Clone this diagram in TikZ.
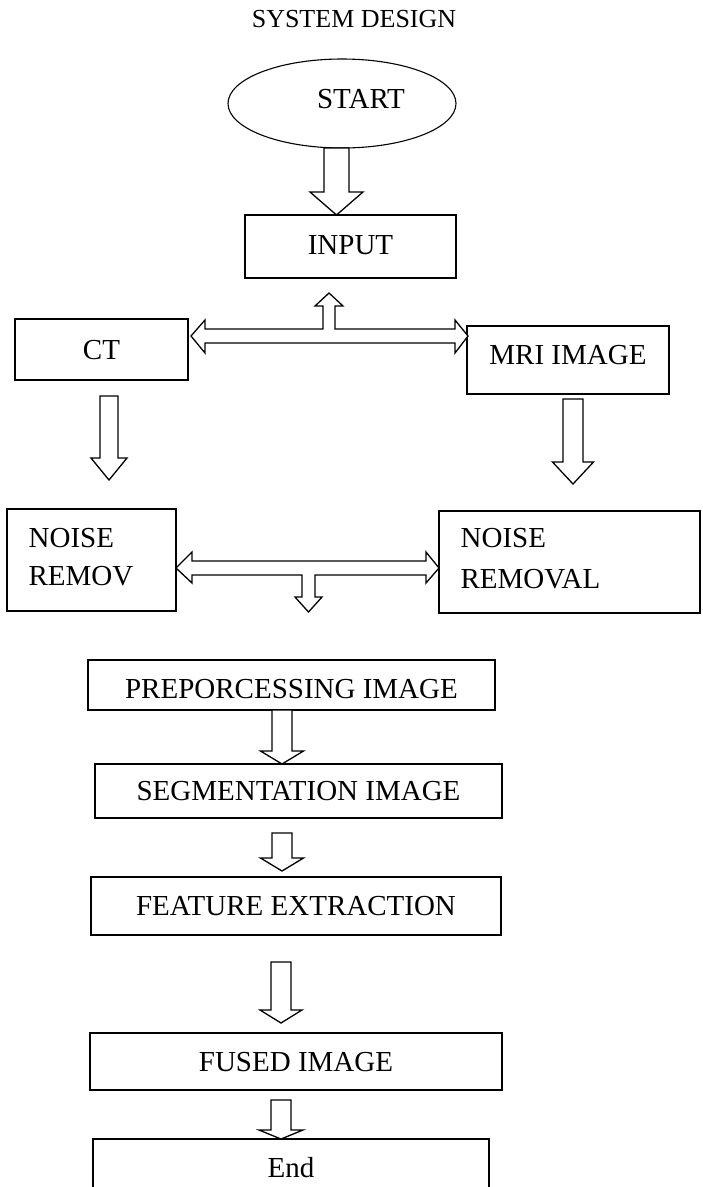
\documentclass[tikz,border=0pt]{standalone}
\usepackage{fontspec}
\setmainfont{Liberation Serif}
\usetikzlibrary{shapes.geometric}
\newcommand\bigtxt{\fontsize{29}{35}\selectfont}
\newcommand\titletxt{\fontsize{26}{31}\selectfont}
% #1 centre x, #2 top y, #3 head base y, #4 tip y, #5 shaft half width, #6 head half width
\newcommand\blkdown[6]{%
  \draw[blk] (#1-#5,#2) -- (#1-#5,#3) -- (#1-#6,#3) -- (#1,#4) -- (#1+#6,#3) -- (#1+#5,#3) -- (#1+#5,#2) -- cycle;}
\begin{document}
\begin{tikzpicture}[x=1pt,y=-1pt,line width=1.3pt,
  box/.style={draw, rectangle, inner sep=0pt, font=\bigtxt, text height=19.2pt, text depth=0pt},
  blk/.style={draw, line width=1.3pt, line join=miter, fill=white},
  txt/.style={inner sep=0pt, font=\bigtxt, anchor=base west}]
\useasboundingbox (0,0) rectangle (703,1187);
\fill[white] (0,0) rectangle (703,1187);

\node[anchor=base, inner sep=0pt, font=\titletxt] (title) at (354,27) {SYSTEM DESIGN};

\node[draw, ellipse, line width=1.1pt, minimum width=228pt, minimum height=89pt, inner sep=0pt] (start) at (342,103.5) {};
\node[inner sep=0pt, font=\bigtxt, anchor=base] (starttxt) at (361,108) {START};

\node[box, minimum width=211pt, minimum height=63pt, text depth=4pt] (input) at (350.5,246.5) {INPUT};
\node[box, minimum width=173pt, minimum height=61pt] (ct) at (101.5,349.5) {CT};
\node[box, minimum width=202pt, minimum height=68pt, text depth=11pt] (mri) at (568,360) {MRI IMAGE};

\node[draw, rectangle, inner sep=0pt, minimum width=169pt, minimum height=102pt] (nr1) at (91.5,560) {};
\node[txt] (nr1a) at (28,547) {NOISE};
\node[txt] (nr1b) at (28,585) {REMOV};
\node[draw, rectangle, inner sep=0pt, minimum width=261pt, minimum height=102pt] (nr2) at (569.5,562) {};
\node[txt] (nr2a) at (460,547) {NOISE};
\node[txt] (nr2b) at (460,588) {REMOVAL};

\node[box, minimum width=407pt, minimum height=50pt, text height=27pt] (pre) at (291.5,685) {PREPORCESSING IMAGE};
\node[box, minimum width=407pt, minimum height=54pt] (seg) at (298.5,791) {SEGMENTATION IMAGE};
\node[box, minimum width=410pt, minimum height=58pt] (feat) at (296,906) {FEATURE EXTRACTION};
\node[box, minimum width=412pt, minimum height=57pt] (fused) at (296,1061.5) {FUSED IMAGE};
\draw (93,1190) -- (93,1139) coordinate (endnw) -- (489,1139) coordinate (endne) -- (489,1190);
\node[inner sep=0pt, font=\bigtxt, anchor=base] (endtxt) at (291,1177) {End};

% block arrows
\blkdown{336.5}{148}{192}{215}{12.5}{26.5}
\draw[blk] (191,336) -- (205,320) -- (205,329) -- (323,329) -- (323,306) -- (315,306) -- (329,293)
  -- (343,306) -- (335,306) -- (335,329) -- (455,329) -- (455,320) -- (468,336) -- (455,353)
  -- (455,343) -- (205,343) -- (205,353) -- cycle;
\blkdown{109}{396}{458}{480}{9}{18}
\blkdown{573}{399}{462}{484}{10}{20.5}
\draw[blk] (176,568) -- (192,552) -- (192,561) -- (426,561) -- (426,552) -- (439,568) -- (426,583)
  -- (426,575) -- (315,575) -- (315,597) -- (322,597) -- (308.5,612) -- (295,597) -- (302,597)
  -- (302,575) -- (192,575) -- (192,583) -- cycle;
\blkdown{282}{710}{751}{764}{10}{21.5}
\blkdown{282}{833}{858}{871}{10}{21.5}
\blkdown{281}{962}{1010}{1023}{10}{21}
\blkdown{281}{1100}{1130}{1139}{10}{22}
\end{tikzpicture}
\end{document}
